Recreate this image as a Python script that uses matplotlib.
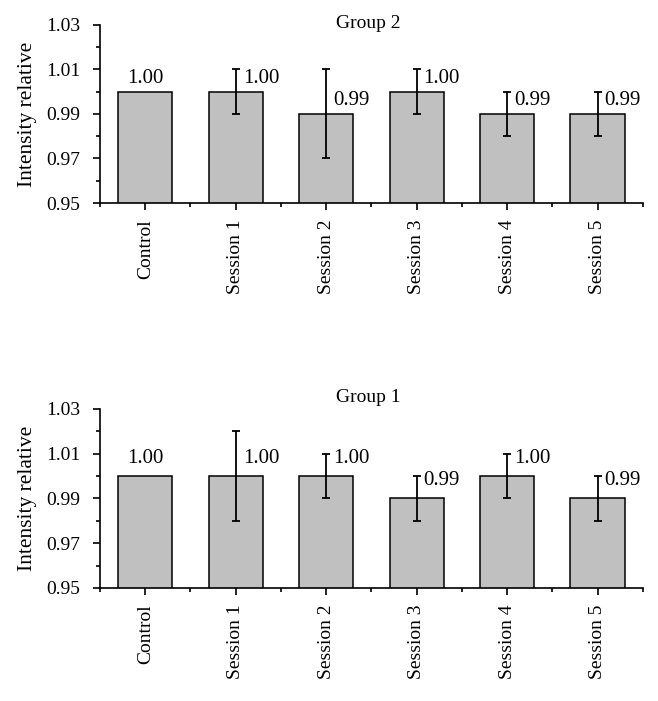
import matplotlib
matplotlib.use("Agg")
import matplotlib.pyplot as plt
from matplotlib.ticker import MultipleLocator

categories = ["Control", "Session 1", "Session 2", "Session 3", "Session 4", "Session 5"]

group2_values = [1.00, 1.00, 0.99, 1.00, 0.99, 0.99]
group2_errors = [0.0, 0.01, 0.02, 0.01, 0.01, 0.01]

group1_values = [1.00, 1.00, 1.00, 0.99, 1.00, 0.99]
group1_errors = [0.0, 0.02, 0.01, 0.01, 0.01, 0.01]

yticks = [0.95, 0.97, 0.99, 1.01, 1.03]

plt.rcParams['font.family'] = ['Liberation Serif', 'DejaVu Serif']
plt.rcParams['font.size'] = 14

fig = plt.figure(figsize=(6.58, 7.01), dpi=100)
ax_top = fig.add_axes([0.152, 0.7104, 0.825, 0.2540])
ax_bot = fig.add_axes([0.152, 0.1612, 0.825, 0.2554])


def draw_group(ax, values, errors, title, title_y, label_dy):
    x = list(range(len(categories)))
    ax.bar(x, values, width=0.6, bottom=0, color='#c0c0c0', edgecolor='black',
           linewidth=1.1, zorder=2)
    ex = [i for i in x if errors[i] > 0]
    ax.errorbar(ex, [values[i] for i in ex], yerr=[errors[i] for i in ex], fmt='none',
                ecolor='black', elinewidth=1.3, capsize=3, capthick=1.3, zorder=3)
    for i, (v, e) in enumerate(zip(values, errors)):
        if e == 0:
            ax.annotate(f"{v:.2f}", (i, v), xytext=(0, label_dy), textcoords='offset points',
                        ha='center', va='bottom', fontsize=15)
        else:
            ax.annotate(f"{v:.2f}", (i, v), xytext=(5, label_dy), textcoords='offset points',
                        ha='left', va='bottom', fontsize=15)
    ax.set_xlim(-0.5, 5.5)
    ax.set_ylim(0.95, 1.03)
    ax.set_yticks(yticks)
    ax.set_yticklabels([f"{t:.2f}" for t in yticks])
    ax.yaxis.set_minor_locator(MultipleLocator(0.01))
    ax.set_xticks(x)
    ax.set_xticklabels(categories, rotation=90)
    ax.set_xticks([i - 0.5 for i in range(len(categories) + 1)], minor=True)
    ax.spines['top'].set_visible(False)
    ax.spines['right'].set_visible(False)
    for s in ('left', 'bottom'):
        ax.spines[s].set_linewidth(1.2)
    ax.tick_params(axis='both', which='major', direction='out', length=5, width=1.2, pad=7)
    ax.tick_params(axis='y', which='major', pad=9)
    ax.tick_params(axis='both', which='minor', direction='out', length=3, width=1.2)
    ax.set_ylabel("Intensity relative", fontsize=15.5)
    ax.yaxis.set_label_coords(-0.116, 0.5)
    fig.text(0.56, title_y, title, ha='center', va='baseline', fontsize=14)


draw_group(ax_top, group2_values, group2_errors, "Group 2", 1 - 28 / 701, 3)
draw_group(ax_bot, group1_values, group1_errors, "Group 1", 1 - 402 / 701, 6)

fig.savefig("out.png", dpi=100)
